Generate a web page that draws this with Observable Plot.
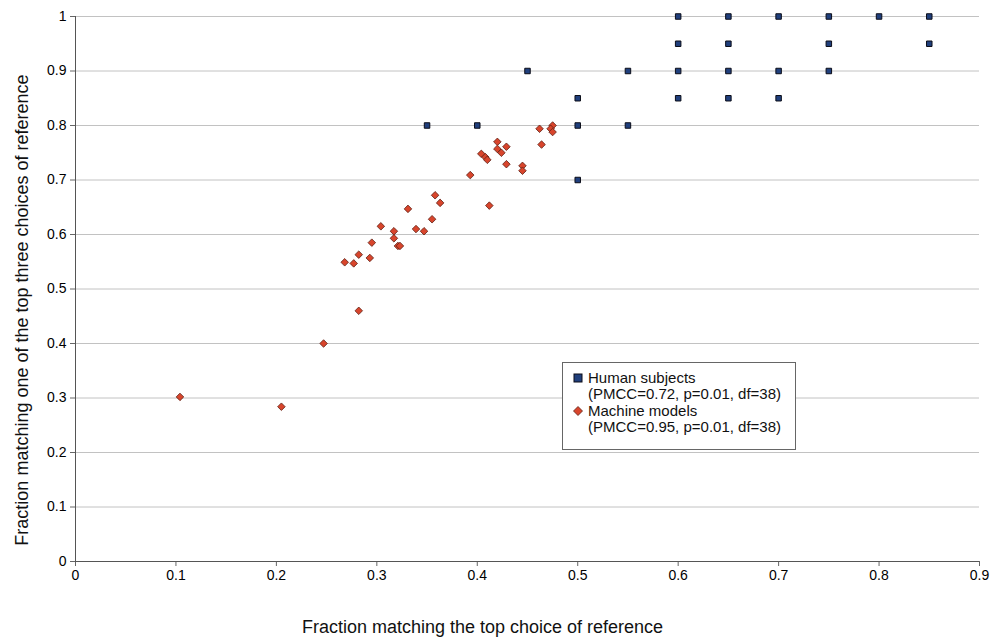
<!DOCTYPE html>
<html>
<head>
<meta charset="utf-8">
<script src="https://cdn.jsdelivr.net/npm/d3@7"></script>
<script src="https://cdn.jsdelivr.net/npm/@observablehq/plot@0.6"></script>
<style>
  body { margin: 0; background: #fff; }
  #wrap { position: relative; width: 997px; height: 640px; font-family: "Liberation Sans", Arial, Helvetica, sans-serif; }
  #legend { position: absolute; left: 562px; top: 362px; width: 234px; height: 88px; box-sizing: border-box;
            border: 1px solid #666; background: #fff; font-size: 15px; color: #111; }
  #legend .row { position: absolute; left: 25px; white-space: nowrap; line-height: 16px; }
  #legend svg { position: absolute; }
</style>
</head>
<body>
<div id="wrap"></div>
<script>
// Human subjects
const humanX = [0.35, 0.40, 0.45, 0.50, 0.50, 0.50, 0.55, 0.55,
                0.60, 0.60, 0.60, 0.60, 0.65, 0.65, 0.65, 0.65,
                0.70, 0.70, 0.70, 0.75, 0.75, 0.75, 0.80, 0.85, 0.85];
const humanY = [0.80, 0.80, 0.90, 0.85, 0.80, 0.70, 0.90, 0.80,
                1.00, 0.95, 0.90, 0.85, 1.00, 0.95, 0.90, 0.85,
                1.00, 0.90, 0.85, 1.00, 0.95, 0.90, 1.00, 1.00, 0.95];

// Machine models
const machineX = [0.104, 0.205, 0.247, 0.282, 0.268, 0.277, 0.282, 0.293, 0.295, 0.304,
                  0.317, 0.317, 0.321, 0.323, 0.331, 0.339, 0.347, 0.355, 0.358, 0.363,
                  0.393, 0.404, 0.408, 0.410, 0.412, 0.420, 0.420, 0.424, 0.429, 0.429,
                  0.445, 0.445, 0.462, 0.464, 0.475, 0.473, 0.475];
const machineY = [0.302, 0.284, 0.400, 0.460, 0.549, 0.547, 0.563, 0.557, 0.585, 0.615,
                  0.606, 0.593, 0.579, 0.579, 0.647, 0.610, 0.606, 0.628, 0.672, 0.658,
                  0.709, 0.748, 0.742, 0.737, 0.653, 0.770, 0.757, 0.750, 0.761, 0.729,
                  0.726, 0.717, 0.794, 0.765, 0.800, 0.794, 0.788];

const xTicks = [0, 0.1, 0.2, 0.3, 0.4, 0.5, 0.6, 0.7, 0.8, 0.9];
const yTicks = [0, 0.1, 0.2, 0.3, 0.4, 0.5, 0.6, 0.7, 0.8, 0.9, 1];

const xTitle = "Fraction matching the top choice of reference";
const yTitle = "Fraction matching one of the top three choices of reference";
const legendLabels = [
  ["Human subjects", "(PMCC=0.72, p=0.01, df=38)"],
  ["Machine models", "(PMCC=0.95, p=0.01, df=38)"]
];

const humanColor = "#203f7c";
const machineColor = "#d8452c";

const human = humanX.map((x, i) => ({x, y: humanY[i]}));
const machine = machineX.map((x, i) => ({x, y: machineY[i]}));
const fmt = d => String(+d.toFixed(1));

const plot = Plot.plot({
  width: 997,
  height: 640,
  marginLeft: 75,
  marginRight: 18,
  marginTop: 16,
  marginBottom: 79,
  style: {fontFamily: "'Liberation Sans', Arial, Helvetica, sans-serif", fontSize: "14px", color: "#000", background: "#fff", overflow: "visible"},
  x: {domain: [0, 0.9]},
  y: {domain: [0, 1]},
  marks: [
    Plot.gridY(yTicks, {stroke: "#c2c2c2", strokeOpacity: 1}),
    Plot.axisX({ticks: xTicks, tickFormat: fmt, tickSize: 5, tickPadding: 4, label: null, stroke: "#666", fontSize: 14}),
    Plot.axisY({ticks: yTicks, tickFormat: fmt, tickSize: 5, tickPadding: 4, label: null, stroke: "#666", fontSize: 14}),
    Plot.ruleY([0], {stroke: "#555"}),
    Plot.ruleX([0], {stroke: "#555"}),
    Plot.dot(human, {x: "x", y: "y", symbol: "square", r: 3.1, fill: humanColor, stroke: "#0b0d18", strokeWidth: 1}),
    Plot.dot(machine, {x: "x", y: "y", symbol: "diamond2", r: 3.4, fill: machineColor, stroke: "#5e2014", strokeWidth: 0.8}),
    Plot.text([xTitle], {text: d => d, frameAnchor: "bottom", textAnchor: "middle", lineAnchor: "middle", dx: -45, dy: 66, fontSize: 18, fill: "#111"}),
    Plot.text([yTitle], {text: d => d, frameAnchor: "left", textAnchor: "middle", lineAnchor: "middle", rotate: -90, dx: -53, dy: 21, fontSize: 18, fill: "#111"})
  ]
});

const wrap = document.getElementById("wrap");
wrap.appendChild(plot);

// Legend (HTML overlay)
const legend = document.createElement("div");
legend.id = "legend";
const tops = [7, 40];
legendLabels.forEach((lines, i) => {
  const row = document.createElement("div");
  row.className = "row";
  row.style.top = tops[i] + "px";
  row.innerHTML = lines.join("<br>");
  legend.appendChild(row);
  const sw = document.createElementNS("http://www.w3.org/2000/svg", "svg");
  sw.setAttribute("width", 12);
  sw.setAttribute("height", 12);
  sw.style.left = "9px";
  sw.style.top = (tops[i] + 2) + "px";
  if (i === 0) {
    sw.innerHTML = `<rect x="2" y="2" width="8" height="8" fill="${humanColor}" stroke="#0b0d18" stroke-width="1"/>`;
  } else {
    sw.innerHTML = `<path d="M6,1.5L10.5,6L6,10.5L1.5,6Z" fill="${machineColor}" stroke="#5e2014" stroke-width="0.8"/>`;
  }
  legend.appendChild(sw);
});
wrap.appendChild(legend);
</script>
</body>
</html>
